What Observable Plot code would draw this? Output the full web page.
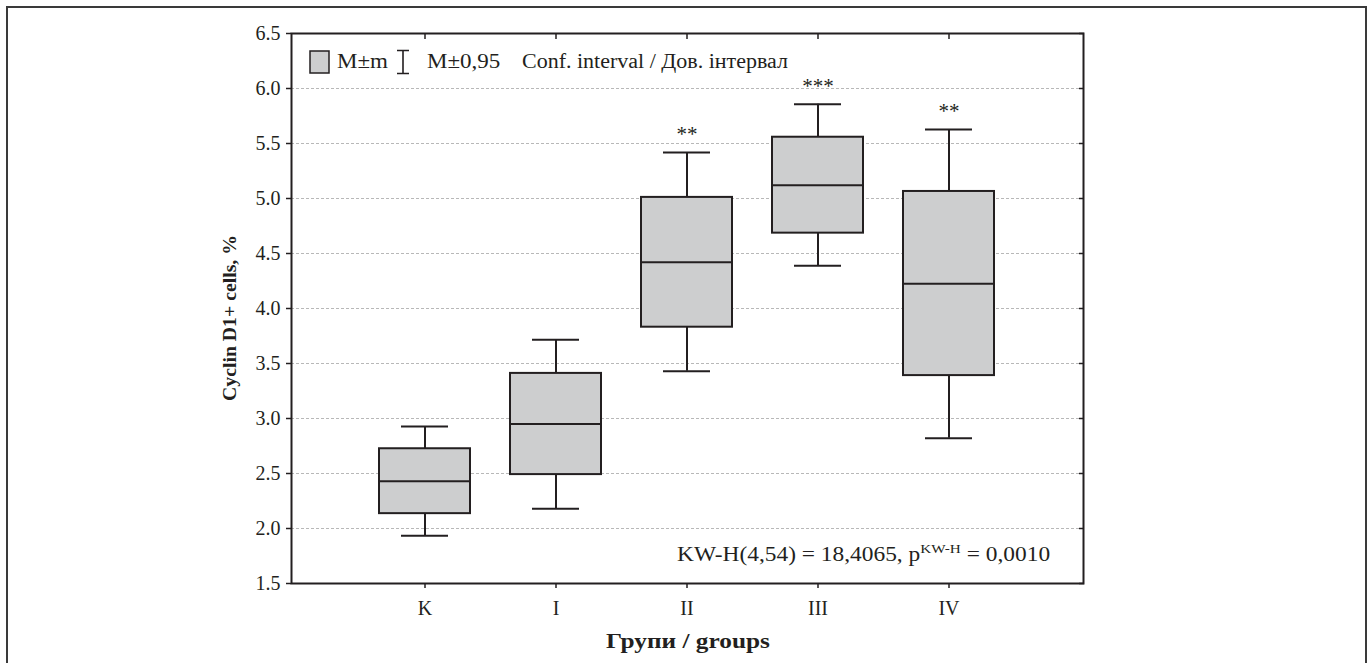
<!DOCTYPE html>
<html><head><meta charset="utf-8">
<script src="https://cdn.jsdelivr.net/npm/d3@7"></script>
<script src="https://cdn.jsdelivr.net/npm/@observablehq/plot@0.6"></script>
<style>
body{margin:0;background:#fff;font-family:"Liberation Serif","Times New Roman",serif;color:#231f20;}
#wrap{position:relative;width:1372px;height:663px;overflow:hidden;}
#frame{position:absolute;left:6px;top:6px;width:1361px;height:700px;border:2px solid #3a3a3a;border-bottom:none;box-sizing:border-box;}
#chart{position:absolute;left:0;top:0;}
.lbl{position:absolute;white-space:nowrap;font-family:"Liberation Serif","Times New Roman",serif;color:#231f20;line-height:1;}
#ylab{left:229px;top:318px;transform:translate(-50%,-50%) rotate(-90deg) scaleX(1.04);font-weight:bold;font-size:19px;}
#xlab{left:688px;top:641px;transform:translate(-50%,-50%) scaleX(1.15);font-weight:bold;font-size:22px;}
#kw{left:677px;top:554px;transform-origin:left center;transform:translate(0,-50%) scaleX(1.17);font-size:20px;}
#kw sup{font-size:13px;vertical-align:0;position:relative;top:-8px;}
.lg{top:61px;transform-origin:left center;transform:translate(0,-50%) scaleX(1.15);font-size:20px;}
</style>
</head><body>
<div id="wrap">
<div id="frame"></div>
<div id="chart"></div>
<div class="lbl" id="ylab">Cyclin D1+ cells, %</div>
<div class="lbl" id="xlab">Групи / groups</div>
<div class="lbl" id="kw">KW-H(4,54) = 18,4065, p<sup>KW-H</sup> = 0,0010</div>
<svg class="lbl" style="left:309px;top:50px" width="21" height="24"><rect x="1" y="1" width="19" height="22" fill="#cdcecf" stroke="#231f20" stroke-width="1.5"/></svg>
<span class="lbl lg" style="left:337px">M±m</span>
<svg class="lbl" style="left:396px;top:49px" width="14" height="26"><path d="M1,1.5H13M7,1.5V24.5M1,24.5H13" stroke="#231f20" stroke-width="1.6" fill="none"/></svg>
<span class="lbl lg" style="left:427px">M±0,95</span>
<span class="lbl lg" style="left:522px;transform:translate(0,-50%) scaleX(1.1)">Conf. interval / Дов. інтервал</span>
</div>
<script>
const groups = ["K", "I", "II", "III", "IV"];
const means  = [2.43, 2.95, 4.42, 5.12, 4.225];
const seLow  = [2.135, 2.49, 3.83, 4.685, 3.39];
const seHigh = [2.725, 3.41, 5.01, 5.557, 5.064];
const ciLow  = [1.935, 2.18, 3.43, 4.388, 2.82];
const ciHigh = [2.927, 3.715, 5.418, 5.857, 5.627];
const stars  = ["", "", "**", "***", "**"];
const yTicks = [1.5, 2.0, 2.5, 3.0, 3.5, 4.0, 4.5, 5.0, 5.5, 6.0, 6.5];
const gridTicks = [2.0, 2.5, 3.0, 3.5, 4.0, 4.5, 5.0, 5.5, 6.0];

const data = groups.map((g, i) => ({g, mean: means[i], seLow: seLow[i], seHigh: seHigh[i], ciLow: ciLow[i], ciHigh: ciHigh[i], star: stars[i]}));
const ink = "#231f20";

const chart = Plot.plot({
  width: 1372, height: 663,
  marginLeft: 291, marginRight: 289, marginTop: 33, marginBottom: 80,
  style: {fontFamily: "Liberation Serif, Times New Roman, serif", fontSize: "20px", color: ink, background: "transparent"},
  x: {type: "band", domain: groups, paddingInner: 0.303, paddingOuter: 0.652, align: 0.5, label: null},
  y: {domain: [1.5, 6.5], label: null},
  marks: [
    Plot.ruleY(gridTicks, {y: d => d, stroke: "#b8b8b8", strokeDasharray: "3,2", strokeWidth: 1}),
    Plot.ruleX(data, {x: "g", y1: "ciLow", y2: "seLow", stroke: ink, strokeWidth: 2}),
    Plot.ruleX(data, {x: "g", y1: "seHigh", y2: "ciHigh", stroke: ink, strokeWidth: 2}),
    Plot.tickY(data, {x: "g", y: "ciLow", inset: 22, stroke: ink, strokeWidth: 2}),
    Plot.tickY(data, {x: "g", y: "ciHigh", inset: 22, stroke: ink, strokeWidth: 2}),
    Plot.barY(data, {x: "g", y1: "seLow", y2: "seHigh", fill: "#cdcecf", stroke: ink, strokeWidth: 2}),
    Plot.tickY(data, {x: "g", y: "mean", stroke: ink, strokeWidth: 2}),
    Plot.text(data, {x: "g", y: "ciHigh", text: "star", dy: -18, fontSize: 21, fill: ink}),
    Plot.frame({stroke: ink, strokeWidth: 2}),
    Plot.axisY({anchor: "left", ticks: yTicks, tickFormat: d3.format(".1f"), tickSize: 5, tickPadding: 6, stroke: ink, strokeWidth: 1.5, fill: ink, fontSize: 20, label: null}),
    Plot.axisY({anchor: "right", ticks: yTicks, tickFormat: () => "", tickSize: 5, dx: -5, stroke: ink, strokeWidth: 1.5, label: null}),
    Plot.axisX({anchor: "bottom", tickSize: 5, tickPadding: 12, stroke: ink, strokeWidth: 1.5, fill: ink, fontSize: 20, label: null}),
    Plot.axisX({anchor: "top", tickFormat: () => "", tickSize: 5, dy: 5, stroke: ink, strokeWidth: 1.5, label: null})
  ]
});
document.getElementById("chart").appendChild(chart);
</script>
</body></html>
